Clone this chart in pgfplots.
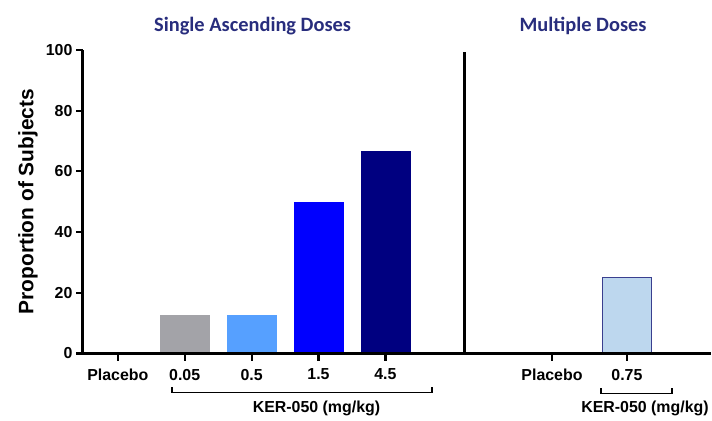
\documentclass[border=0pt]{standalone}
\usepackage{pgfplots}
\pgfplotsset{compat=1.18}
\usepackage{fontspec}
\setmainfont{Liberation Sans}
\newfontfamily\titlefont{Carlito}
\definecolor{cgray}{RGB}{163,163,168}
\definecolor{clight}{RGB}{86,160,255}
\definecolor{cblue}{RGB}{0,0,255}
\definecolor{cnavy}{RGB}{0,0,128}
\definecolor{cpale}{RGB}{189,215,238}
\definecolor{cedge}{RGB}{58,63,143}
\definecolor{ctitle}{RGB}{40,45,125}
\begin{document}
\begin{tikzpicture}
\begin{axis}[
  scale only axis,
  width=629bp, height=304bp,
  xmin=0.478, xmax=9.866,
  ymin=0, ymax=100,
  axis line style={draw=none},
  clip=false,
  ytick={0,20,...,100},
  xtick={1,2,3,4,5,7.49,8.61},
  xticklabels={Placebo,0.05,0.5,1.5,4.5,Placebo,0.75},
  xtick pos=bottom, ytick pos=left,
  tick align=outside,
  major tick length=7bp,
  /pgf/number format/assume math mode=true,
  ticklabel style={font=\fontsize{16}{18}\selectfont\bfseries},
  xticklabel style={yshift=-5bp},
]
% invisible frame giving the picture its size
\path ([xshift=-83bp,yshift=-67bp]rel axis cs:0,0) rectangle ([yshift=50bp]rel axis cs:1,1);
\addplot[ybar, bar width=0.73, bar shift=0pt, fill=cgray, draw=cgray] coordinates {(2,12.5)};
\addplot[ybar, bar width=0.73, bar shift=0pt, fill=clight, draw=clight] coordinates {(3,12.5)};
\addplot[ybar, bar width=0.73, bar shift=0pt, fill=cblue, draw=cblue] coordinates {(4,50)};
\addplot[ybar, bar width=0.73, bar shift=0pt, fill=cnavy, draw=cnavy] coordinates {(5,66.7)};
\addplot[ybar, bar width=0.73, bar shift=0pt, fill=cpale, draw=cedge, line width=0.7pt] coordinates {(8.61,25)};
% axis lines and outward ticks, as filled strips
\fill[black] ([xshift=-1.4bp,yshift=-1.2bp]rel axis cs:0,0) rectangle ([yshift=1.2bp]rel axis cs:1,0);
\fill[black] ([xshift=-1.4bp,yshift=-1.2bp]rel axis cs:0,0) rectangle ([xshift=1.4bp]rel axis cs:0,1);
\pgfplotsinvokeforeach{1,2,3,4,5,7.49,8.61}{
  \fill[black] ([xshift=-1.1bp]axis cs:#1,0) rectangle ([xshift=1.1bp,yshift=-7.5bp]axis cs:#1,0);
}
\pgfplotsinvokeforeach{0,20,40,60,80,100}{
  \fill[black] ([yshift=-1.1bp]axis cs:0.478,#1) rectangle ([xshift=-7bp,yshift=1.1bp]axis cs:0.478,#1);
}
% divider between the two study parts
\fill[black] ([xshift=-1.3bp]axis cs:6.18,0) rectangle ([xshift=1.3bp]axis cs:6.18,99.3);
% group brackets
\draw[line width=1.8pt] (axis cs:1.806,-11.2) -- (axis cs:1.806,-12.85) -- (axis cs:5.701,-12.85) -- (axis cs:5.701,-11.2);
\draw[line width=1.8pt] (axis cs:8.224,-11.5) -- (axis cs:8.224,-13.15) -- (axis cs:9.284,-13.15) -- (axis cs:9.284,-11.5);
\node[font=\fontsize{16}{18}\selectfont\bfseries] at (axis cs:3.97,-18.1) {KER-050 (mg/kg)};
\node[font=\fontsize{16}{18}\selectfont\bfseries] at (axis cs:8.88,-18.1) {KER-050 (mg/kg)};
% y label
\node[rotate=90, font=\fontsize{21}{24}\selectfont\bfseries] at ([xshift=-55bp]rel axis cs:0,0.5) {Proportion of Subjects};
% titles
\node[font=\titlefont\fontsize{20.5}{24}\selectfont\bfseries, text=ctitle] at (axis cs:3.015,108) {Single Ascending Doses};
\node[font=\titlefont\fontsize{20.5}{24}\selectfont\bfseries, text=ctitle] at (axis cs:7.955,108) {Multiple Doses};
\end{axis}
\end{tikzpicture}
\end{document}
